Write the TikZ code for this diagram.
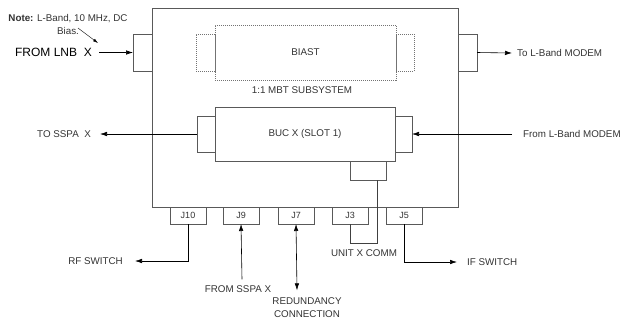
\documentclass[tikz,border=0pt]{standalone}
\usepackage{fontspec}
\setmainfont{Liberation Sans}
\usetikzlibrary{positioning,arrows.meta}

\tikzset{
  box/.style={draw=black!65, line width=0.6pt, inner sep=0pt, outer sep=0pt},
  stub/.style={draw=black!55, line width=0.6pt, dash pattern=on 1pt off 1pt, inner sep=0pt, outer sep=0pt},
  jack/.style={box, minimum width=36pt, minimum height=17pt, text=black!80, font=\fontsize{9}{10}\selectfont},
  lbl/.style={text=black!80, inner sep=0pt, font=\fontsize{9.8}{13}\selectfont},
  sig/.style={-{Latex[length=7pt,width=4.5pt]}, line width=0.6pt},
  wire/.style={line width=0.6pt, draw=black!75},
}

\begin{document}
\begin{tikzpicture}[x=1pt, y=-1pt]
	\useasboundingbox (0,0) rectangle (623,322);
	% unit outline and side ports
	\node[box, minimum width=306pt, minimum height=199pt] (unit) at (305,107.5) {};
	\node[box, minimum width=19pt, minimum height=37pt] (lnbport) at (142.5,52.5) {};
	\node[box, minimum width=19pt, minimum height=37pt] (txport) at (467.5,52.5) {};
	% biast (dotted)
	\node[stub, minimum width=181pt, minimum height=55pt, lbl] (biast) at (305.5,52.5) {BIAST};
	\node[stub, minimum width=19pt, minimum height=37pt] (biastl) at (205.5,52.5) {};
	\node[stub, minimum width=18pt, minimum height=37pt] (biastr) at (405,52.5) {};
	\node[lbl] (mbt) at (302,90) {1:1 MBT SUBSYSTEM};
	% BUC and its ports
	\node[box, minimum width=180pt, minimum height=54pt, lbl] (buc) at (305,134) {BUC X (SLOT 1)};
	\node[box, minimum width=18pt, minimum height=36pt] (bucl) at (206,134) {};
	\node[box, minimum width=17pt, minimum height=36pt] (bucr) at (403.5,134) {};
	\node[box, minimum width=36pt, minimum height=19pt] (bucb) at (368,170.5) {};
	% jacks
	\node[jack] (J10) at (188,215.5) {J10};
	\node[jack] (J9) at (241,215.5) {J9};
	\node[jack] (J7) at (296,215.5) {J7};
	\node[jack] (J3) at (350,215.5) {J3};
	\node[jack] (J5) at (404,215.5) {J5};
	% labels
	\node[lbl, align=center] (note) at (68,24) {\textbf{Note:} L-Band, 10 MHz, DC\\Bias.};
	\node[lbl, anchor=east, font=\fontsize{12}{14}\selectfont, text=black] (lnb) at (92,52.5) {FROM LNB\ \ X};
	\node[lbl, anchor=west] (tomodem) at (517,53) {To L-Band MODEM};
	\node[lbl, anchor=east] (sspa) at (91,134) {TO SSPA\ \ X};
	\node[lbl, anchor=west] (frommodem) at (523,134) {From L-Band MODEM};
	\node[lbl, anchor=east] (rfsw) at (123,261) {RF SWITCH};
	\node[lbl, anchor=west] (ifsw) at (467,262) {IF SWITCH};
	\node[lbl] (comm) at (364,253) {UNIT X COMM};
	\node[lbl] (fromsspa) at (238,289) {FROM SSPA X};
	\node[lbl, align=center] (redund) at (307,307.5) {REDUNDANCY\\CONNECTION};
	\coordinate (biasfrom) at (78,28);
	\coordinate (biasto) at (98,43);
	% connections
	\draw[-{Latex[length=5pt,width=3pt]}, line width=0.4pt] (biasfrom) -- (biasto);
	\draw[sig] ([xshift=7pt]lnb.east) -- (lnbport.west);
	\draw[sig] (txport.east) -- ([xshift=-5pt]tomodem.west);
	\draw[sig] (bucl.west) -- ([xshift=9pt]sspa.east);
	\draw[sig] ([xshift=-11pt]frommodem.west) -- (bucr.east);
	\draw[wire] ([xshift=9pt]bucb.south) -- ++(0,63) -| (J3.south);
	\draw[sig] (J10.south) |- ([xshift=12pt]rfsw.east);
	\draw[sig] (J5.south) |- ([xshift=-10pt]ifsw.west);
	\draw[sig] ([xshift=4pt, yshift=6pt]fromsspa.north) -- (J9.south);
	\draw[{Latex[length=7pt,width=4.5pt]}-{Latex[length=7pt,width=4.5pt]}, line width=0.6pt] (J7.south) -- ([xshift=-10pt, yshift=7pt]redund.north);
\end{tikzpicture}
\end{document}
